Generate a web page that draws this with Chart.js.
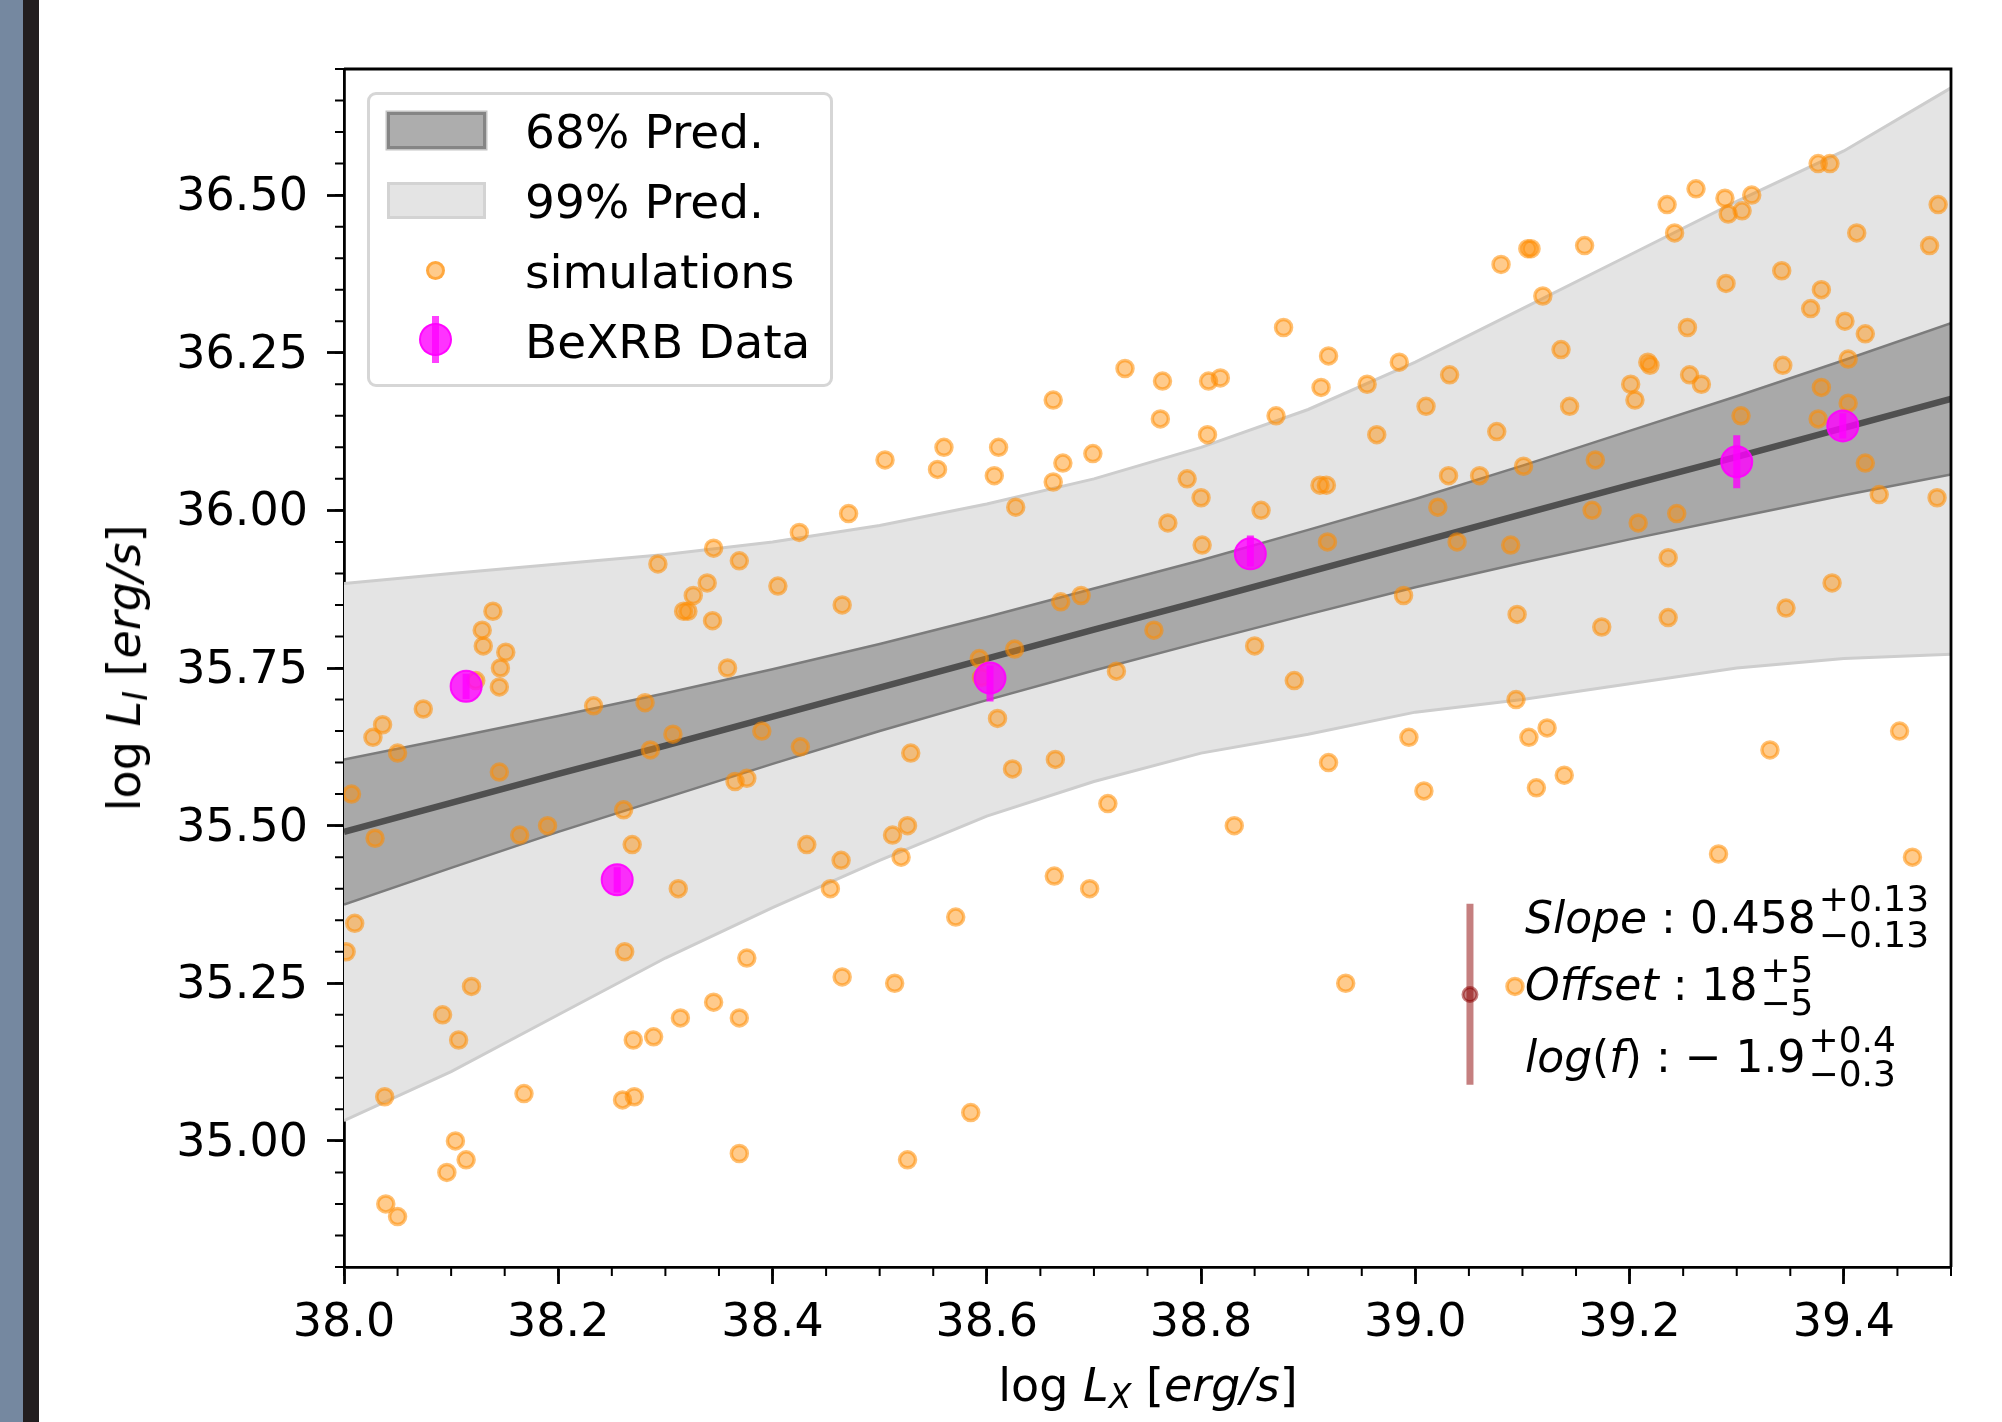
<!DOCTYPE html>
<html>
<head>
<meta charset="utf-8">
<script src="https://cdn.jsdelivr.net/npm/chart.js@4.4.0/dist/chart.umd.min.js"></script>
<style>
  html, body { margin: 0; padding: 0; background: #fff; }
  #wrap { position: relative; width: 2002px; height: 1422px; overflow: hidden; font-family: 'DejaVu Sans', sans-serif; color: #000; }
  #chart { position: absolute; left: 0; top: 0; }
  .strip1 { position: absolute; left: 0; top: 0; width: 23px; height: 1422px; background: #7588a0; }
  .strip2 { position: absolute; left: 23px; top: 0; width: 16px; height: 1422px; background: #221e1f; }
  .legend { position: absolute; left: 367px; top: 92px; width: 466px; height: 295px; box-sizing: border-box;
            border: 3.5px solid #d6d6d6; border-radius: 9px; background: rgba(255,255,255,0.8); }
  .lg-text { position: absolute; left: 525px; font-size: 47px; line-height: 47px; white-space: nowrap; }
  .patch { position: absolute; left: 387px; width: 99px; height: 37px; box-sizing: border-box; }
  .p68 { top: 112px; background: #adadad; border: 3px solid #858585; box-shadow: 0 0 0 1.5px #c4c4c4; }
  .p99 { top: 182px; background: #e4e4e4; border: 3px solid #d3d3d3; }
  .simdot { position: absolute; left: 426px; top: 261px; width: 19px; height: 19px; box-sizing: border-box; border-radius: 50%;
            background: rgba(255,140,0,0.45); border: 3px solid rgba(255,140,0,0.55); }
  .bexdot { position: absolute; left: 419px; top: 323px; width: 33px; height: 33px; box-sizing: border-box; border-radius: 50%;
            background: rgba(255,0,255,0.8); border: 2px solid rgba(255,0,255,0.9); }
  .bexbar { position: absolute; left: 432px; top: 316px; width: 7px; height: 47px; background: rgba(255,0,255,0.75); }
  .ann { position: absolute; left: 1525px; font-size: 44px; line-height: 44px; white-space: nowrap; }
  .ss { position: relative; display: inline-block; width: 0; height: 0; }
  .ss span { position: absolute; left: 3px; font-size: 36px; line-height: 36px; white-space: nowrap; }
  .title { position: absolute; font-size: 46px; line-height: 46px; white-space: nowrap; }
  .sub { font-size: 0.72em; position: relative; top: 0.2em; line-height: 0; }
</style>
</head>
<body>
<div id="wrap">
  <div class="strip1"></div>
  <div class="strip2"></div>
  <canvas id="chart" width="2002" height="1422"></canvas>

  <div class="legend"></div>
  <div class="patch p68"></div>
  <div class="patch p99"></div>
  <div class="simdot"></div>
  <div class="bexbar"></div>
  <div class="bexdot"></div>
  <div class="lg-text" style="top:108px">68% Pred.</div>
  <div class="lg-text" style="top:178px">99% Pred.</div>
  <div class="lg-text" style="top:248px">simulations</div>
  <div class="lg-text" style="top:318px">BeXRB Data</div>

  <div class="ann" style="top:896px"><i>Slope</i> : 0.458<span class="ss"><span style="top:-52px">+0.13</span><span style="top:-16px">−0.13</span></span></div>
  <div class="ann" style="top:963px"><i>Offset</i> : 18<span class="ss"><span style="top:-48px">+5</span><span style="top:-15px">−5</span></span></div>
  <div class="ann" style="top:1035px"><i>log</i>(<i>f</i>) :  − 1.9<span class="ss"><span style="top:-50px">+0.4</span><span style="top:-16px">−0.3</span></span></div>

  <div class="title" style="left:1148px; top:1362px; transform:translateX(-50%)">log <i>L</i><i class="sub">X</i> [<i>erg/s</i>]</div>
  <div class="title" style="left:124px; top:668px; transform:translate(-50%,-50%) rotate(-90deg)">log <i>L</i><i class="sub">I</i> [<i>erg/s</i>]</div>
</div>

<script>
// simulations (log Lx, log LI)
const simX = [38.007, 38.002, 38.010, 38.027, 38.036, 38.029, 38.050, 38.038, 38.039, 38.050,
  38.074, 38.092, 38.096, 38.104, 38.107, 38.114, 38.119, 38.123, 38.129, 38.130,
  38.139, 38.146, 38.151, 38.145, 38.145, 38.164, 38.168, 38.190, 38.233, 38.260,
  38.261, 38.269, 38.271, 38.270, 38.281, 38.286, 38.289, 38.293, 38.262, 38.307,
  38.312, 38.314, 38.317, 38.321, 38.326, 38.339, 38.344, 38.345, 38.345, 38.358,
  38.365, 38.369, 38.369, 38.369, 38.376, 38.376, 38.390, 38.405, 38.425, 38.426,
  38.432, 38.454, 38.465, 38.464, 38.465, 38.471, 38.505, 38.512, 38.514, 38.520,
  38.526, 38.526, 38.529, 38.554, 38.560, 38.571, 38.585, 38.593, 38.595, 38.607,
  38.611, 38.610, 38.626, 38.624, 38.627, 38.662, 38.662, 38.663, 38.664, 38.669,
  38.671, 38.688, 38.696, 38.699, 38.713, 38.721, 38.729, 38.756, 38.762, 38.764,
  38.769, 38.787, 38.800, 38.801, 38.806, 38.807, 38.818, 38.831, 38.850, 38.856,
  38.870, 38.877, 38.887, 38.911, 38.917, 38.912, 38.919, 38.918, 38.919, 38.935,
  38.955, 38.964, 38.985, 38.989, 38.994, 39.008, 39.010, 39.021, 39.032, 39.031,
  39.039, 39.060, 39.076, 39.080, 39.089, 39.094, 39.093, 39.095, 39.101, 39.105,
  39.108, 39.106, 39.113, 39.119, 39.123, 39.136, 39.139, 39.144, 39.158, 39.165,
  39.168, 39.174, 39.201, 39.205, 39.208, 39.217, 39.219, 39.235, 39.242, 39.236,
  39.236, 39.244, 39.254, 39.256, 39.262, 39.267, 39.283, 39.289, 39.290, 39.292,
  39.305, 39.304, 39.314, 39.331, 39.342, 39.343, 39.346, 39.369, 39.376, 39.379,
  39.379, 39.376, 39.387, 39.389, 39.401, 39.404, 39.404, 39.412, 39.420, 39.420,
  39.433, 39.452, 39.464, 39.480, 39.488, 39.487];
const simY = [35.55, 35.30, 35.345, 35.64, 35.66, 35.48, 35.615, 35.07, 34.90, 34.88,
  35.685, 35.20, 34.95, 35.00, 35.16, 34.97, 35.245, 35.73, 35.81, 35.785,
  35.84, 35.75, 35.775, 35.72, 35.585, 35.485, 35.075, 35.50, 35.69, 35.065,
  35.525, 35.47, 35.07, 35.16, 35.695, 35.62, 35.165, 35.915, 35.30, 35.645,
  35.40, 35.195, 35.84, 35.84, 35.865, 35.885, 35.825, 35.94, 35.22, 35.75,
  35.57, 35.92, 34.98, 35.195, 35.29, 35.575, 35.65, 35.88, 35.965, 35.625,
  35.47, 35.40, 35.26, 35.445, 35.85, 35.995, 36.08, 35.485, 35.25, 35.45,
  34.97, 35.50, 35.615, 36.065, 36.10, 35.355, 35.045, 35.765, 35.735, 36.055,
  36.10, 35.67, 35.78, 35.59, 36.005, 36.175, 36.045, 35.42, 35.605, 35.855,
  36.075, 35.865, 35.40, 36.09, 35.535, 35.745, 36.225, 35.81, 36.145, 36.205,
  35.98, 36.05, 36.02, 35.945, 36.12, 36.205, 36.21, 35.50, 35.785, 36.00,
  36.15, 36.29, 35.73, 36.04, 36.04, 36.195, 36.245, 35.95, 35.60, 35.25,
  36.20, 36.12, 36.235, 35.865, 35.64, 35.555, 36.165, 36.005, 36.215, 36.055,
  35.95, 36.055, 36.125, 36.39, 35.945, 35.70, 35.245, 35.835, 36.07, 36.415,
  36.415, 35.64, 35.56, 36.34, 35.655, 36.255, 35.58, 36.165, 36.42, 36.00,
  36.08, 35.815, 36.20, 36.175, 35.98, 36.235, 36.23, 36.485, 36.44, 35.925,
  35.83, 35.995, 36.29, 36.215, 36.51, 36.20, 35.455, 36.495, 36.36, 36.47,
  36.475, 36.15, 36.50, 35.62, 36.38, 36.23, 35.845, 36.32, 36.55, 36.35,
  36.195, 36.145, 36.55, 35.885, 36.30, 36.24, 36.17, 36.44, 36.28, 36.075,
  36.025, 35.65, 35.45, 36.42, 36.485, 36.02];

// BeXRB data with asymmetric errors
const bexX = [38.114, 38.255, 38.603, 38.846, 39.300, 39.399];
const bexY = [35.721, 35.414, 35.734, 35.931, 36.077, 36.134];
const bexLo = [0.02, 0.02, 0.037, 0.02, 0.042, 0.02];
const bexHi = [0.02, 0.02, 0.02, 0.029, 0.042, 0.02];

// best fit and prediction bands
const bandX = [38.0, 38.1, 38.2, 38.3, 38.4, 38.5, 38.6, 38.7, 38.8, 38.9, 39.0, 39.1, 39.2, 39.3, 39.4, 39.5];
const fitY = [35.490, 35.536, 35.582, 35.627, 35.673, 35.719, 35.765, 35.811, 35.856, 35.902, 35.948, 35.994, 36.040, 36.085, 36.131, 36.177];
const up68 = [35.605, 35.639, 35.674, 35.710, 35.748, 35.788, 35.831, 35.876, 35.921, 35.969, 36.018, 36.071, 36.126, 36.181, 36.238, 36.297];
const lo68 = [35.375, 35.433, 35.490, 35.544, 35.598, 35.650, 35.699, 35.746, 35.791, 35.835, 35.878, 35.917, 35.954, 35.989, 36.024, 36.057];
const up99 = [35.884, 35.900, 35.915, 35.930, 35.950, 35.976, 36.010, 36.050, 36.100, 36.160, 36.235, 36.320, 36.405, 36.490, 36.570, 36.670];
const lo99 = [35.032, 35.110, 35.200, 35.290, 35.370, 35.445, 35.515, 35.570, 35.615, 35.645, 35.680, 35.700, 35.725, 35.750, 35.765, 35.772];

// typical error marker next to the fit results
const annX = [39.051];
const annY = [35.232];
const annLo = [0.143];
const annHi = [0.144];

const xTicks = [38.0, 38.2, 38.4, 38.6, 38.8, 39.0, 39.2, 39.4];
const yTicks = [35.0, 35.25, 35.5, 35.75, 36.0, 36.25, 36.5];

const xMinor = [];
for (let v = 38.0; v <= 39.5001; v += 0.05) xMinor.push(+v.toFixed(2));
const yMinor = [];
for (let v = 34.8; v <= 36.7001; v += 0.05) yMinor.push(+v.toFixed(2));

const pts = (xs, ys) => xs.map((x, i) => ({ x, y: ys[i] }));
const errSegs = (xs, ys, lo, hi) => {
  const out = [];
  xs.forEach((x, i) => {
    out.push({ x, y: ys[i] - lo[i] }, { x, y: ys[i] + hi[i] }, { x, y: null });
  });
  return out;
};

// minor ticks + top/right spines
const frame = {
  id: 'frame',
  afterDraw(chart) {
    const { ctx, chartArea: a, scales } = chart;
    ctx.save();
    ctx.strokeStyle = '#000';
    ctx.lineWidth = 2;
    ctx.beginPath();
    xMinor.forEach(v => {
      const p = scales.x.getPixelForValue(v);
      ctx.moveTo(p, a.bottom); ctx.lineTo(p, a.bottom + 9);
    });
    yMinor.forEach(v => {
      const p = scales.y.getPixelForValue(v);
      ctx.moveTo(a.left, p); ctx.lineTo(a.left - 9, p);
    });
    ctx.stroke();
    ctx.lineWidth = 2.8;
    ctx.beginPath();
    ctx.moveTo(a.left, a.top); ctx.lineTo(a.right, a.top); ctx.lineTo(a.right, a.bottom);
    ctx.stroke();
    ctx.restore();
  }
};

const lineDs = (data, color, width, order, fill, bg) => ({
  type: 'line', data, borderColor: color, borderWidth: width, backgroundColor: bg || 'transparent',
  fill: fill || false, pointRadius: 0, tension: 0, order, clip: 0
});

new Chart(document.getElementById('chart'), {
  type: 'line',
  data: {
    datasets: [
      lineDs(pts(bandX, up99), '#cdcdcd', 3, 20, '+1', '#e4e4e4'),
      lineDs(pts(bandX, lo99), '#cdcdcd', 3, 19),
      lineDs(pts(bandX, up68), '#7c7c7c', 2.5, 18, '+1', '#a9a9a9'),
      lineDs(pts(bandX, lo68), '#7c7c7c', 2.5, 17),
      lineDs(pts(bandX, fitY), '#505050', 6.5, 16),
      {
        label: 'simulations', data: pts(simX, simY), showLine: false, order: 10, clip: 0,
        pointRadius: 8, borderWidth: 3.5,
        backgroundColor: 'rgba(255,140,0,0.45)', borderColor: 'rgba(255,140,0,0.55)'
      },
      {
        data: errSegs(bexX, bexY, bexLo, bexHi), borderColor: 'rgba(255,0,255,0.8)', borderWidth: 7,
        pointRadius: 0, spanGaps: false, order: 3, clip: 0, borderCapStyle: 'butt'
      },
      {
        label: 'BeXRB Data', data: pts(bexX, bexY), showLine: false, order: 2, clip: 0,
        pointRadius: 15.5, borderWidth: 2,
        backgroundColor: 'rgba(255,0,255,0.8)', borderColor: 'rgba(255,0,255,0.9)'
      },
      {
        data: errSegs(annX, annY, annLo, annHi), borderColor: 'rgba(139,0,0,0.5)', borderWidth: 7,
        pointRadius: 0, spanGaps: false, order: 5, clip: 0, borderCapStyle: 'butt'
      },
      {
        data: pts(annX, annY), showLine: false, order: 4, clip: 0,
        pointRadius: 7, borderWidth: 3,
        backgroundColor: 'rgba(139,0,0,0.5)', borderColor: 'rgba(139,0,0,0.5)'
      }
    ]
  },
  options: {
    responsive: false,
    animation: false,
    devicePixelRatio: 1,
    layout: { padding: { left: 0, top: 69, right: 51, bottom: 0 } },
    plugins: { legend: { display: false }, tooltip: { enabled: false } },
    scales: {
      x: {
        type: 'linear', min: 38.0, max: 39.5, z: 1,
        afterBuildTicks: s => { s.ticks = xTicks.map(value => ({ value })); },
        afterFit: s => { s.height = 155; },
        ticks: {
          autoSkip: false, maxRotation: 0, padding: 12, color: '#000',
          font: { family: 'DejaVu Sans', size: 46 },
          callback: v => Number(v).toFixed(1)
        },
        grid: { drawOnChartArea: false, drawTicks: true, tickLength: 17, tickWidth: 2.8, tickColor: '#000' },
        border: { display: true, color: '#000', width: 2.8 }
      },
      y: {
        type: 'linear', min: 34.8, max: 36.7, z: 1,
        afterBuildTicks: s => { s.ticks = yTicks.map(value => ({ value })); },
        afterFit: s => { s.width = 344; },
        ticks: {
          autoSkip: false, padding: 19, labelOffset: 3, color: '#000',
          font: { family: 'DejaVu Sans', size: 46 },
          callback: v => Number(v).toFixed(2)
        },
        grid: { drawOnChartArea: false, drawTicks: true, tickLength: 17, tickWidth: 2.8, tickColor: '#000' },
        border: { display: true, color: '#000', width: 2.8 }
      }
    }
  },
  plugins: [frame]
});
</script>
</body>
</html>
